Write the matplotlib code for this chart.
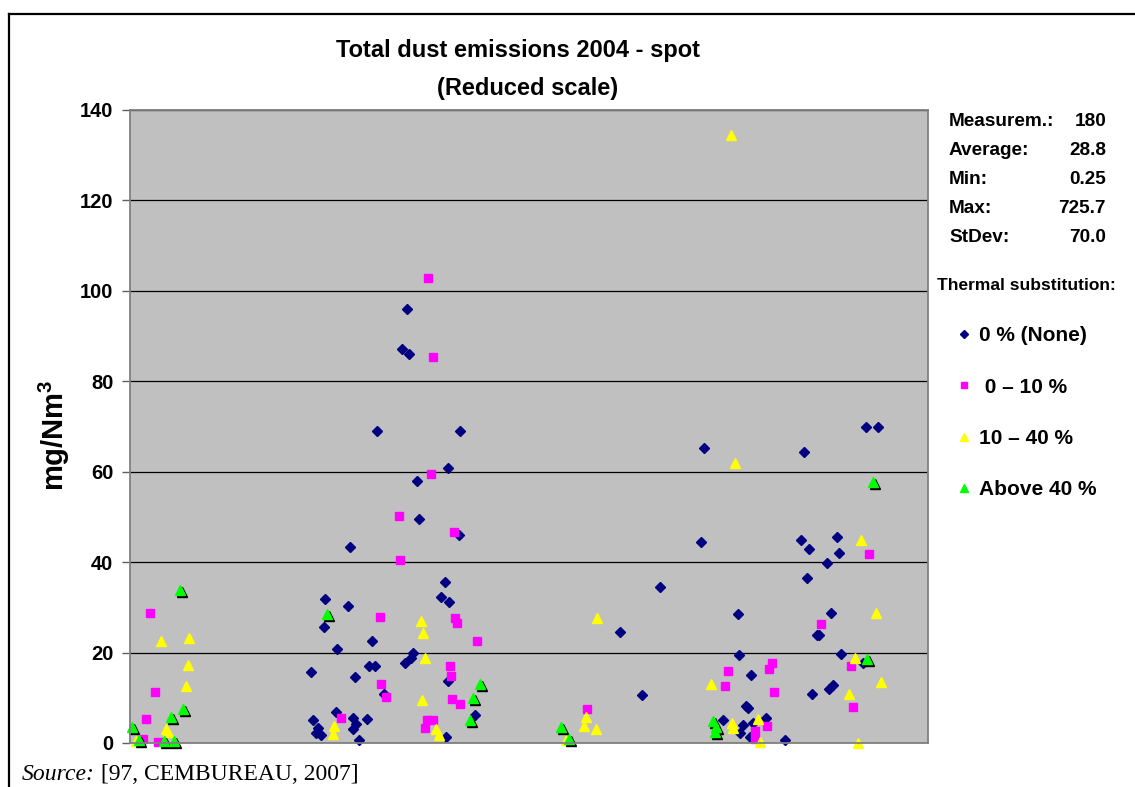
"""
plot.py
-------
Total dust emissions 2004 - spot measurements (reduced scale),
scatter by thermal substitution class.
"""

import matplotlib
matplotlib.use("Agg")
import matplotlib.pyplot as plt
from matplotlib.lines import Line2D
from matplotlib.transforms import offset_copy

plt.rcParams["font.family"] = ["Liberation Sans", "DejaVu Sans"]
plt.rcParams["mathtext.default"] = "regular"

W, H = 1135, 787

# --------------------------------------------------------------------------
# Data (x = position along the plant sequence, y = mg/Nm3)
# --------------------------------------------------------------------------

none_x = [195, 194, 207, 181, 183, 188, 186, 191, 206, 220, 218, 242, 239,
          245, 225, 254, 223, 226, 223, 237, 229, 247, 277, 272, 279, 287,
          289, 283, 281, 275, 311, 315, 319, 318, 330, 329, 318, 345, 316,
          490, 512, 530, 574, 571,
          608, 609, 621, 616, 618, 593, 636, 613, 610, 623, 620, 655,
          674, 671, 679, 707, 709, 697, 677, 701, 687, 689, 711, 733, 703,
          699, 682, 736, 748]
none_y = [31.9, 25.7, 20.8, 15.7, 5.1, 3.3, 2.2, 1.8, 6.9, 43.4, 30.3, 22.6,
          17.1, 17.1, 14.6, 10.9, 5.5, 4.2, 3.1, 5.3, 0.7, 69.1, 95.9, 87.1,
          86.0, 58.0, 49.6, 19.9, 18.8, 17.7, 32.3, 35.7, 31.2, 60.9, 68.9,
          46.1, 13.7, 6.2, 1.3,
          24.6, 10.6, 34.4, 65.3, 44.5,
          28.6, 19.5, 15.0, 8.2, 7.7, 5.0, 5.5, 4.0, 2.2, 4.4, 1.3, 0.6,
          64.3, 45.0, 42.8, 45.6, 42.1, 39.7, 36.6, 28.8, 23.9, 23.9, 19.7,
          17.7, 12.8, 12.0, 10.9, 69.8, 69.8]

low_x = [20, 25, 16, 13, 28, 211,
         298, 303, 301, 269, 324, 270, 250, 325, 327, 347, 320, 321, 251,
         256, 322, 330, 297, 303, 295,
         457, 598, 595, 642, 639, 644, 625, 637, 625, 691, 739, 721, 723]
low_y = [28.8, 11.3, 5.3, 0.9, 0.2, 5.6,
         102.8, 85.3, 59.4, 50.3, 46.7, 40.5, 27.9, 27.7, 26.6, 22.6, 17.1,
         14.8, 13.1, 10.2, 9.8, 8.6, 5.1, 5.1, 3.3,
         7.5, 16.0, 12.5, 17.7, 16.4, 11.3, 2.7, 3.8, 0.9, 26.4, 41.9, 17.1, 8.0]

mid_x = [31, 59, 58, 56, 36, 38, 6, 204, 203,
         291, 293, 295, 292, 306, 309,
         467, 456, 454, 466, 436,
         605, 601, 581, 602, 603, 628, 630,
         731, 746, 725, 751, 719, 728]
mid_y = [22.6, 23.3, 17.3, 12.6, 3.1, 2.4, 0.5, 3.8, 2.0,
         27.0, 24.4, 18.8, 9.5, 3.1, 1.8,
         27.7, 5.8, 3.8, 3.1, 0.6,
         62.0, 134.4, 13.0, 4.5, 3.3, 5.3, 0.2,
         45.0, 28.8, 18.8, 13.5, 10.9, 0.0]

high_x = [50, 53, 41, 2, 9, 34, 44, 197, 350, 343, 340, 431, 439,
          583, 586, 585, 743, 737]
high_y = [33.9, 7.5, 5.8, 3.5, 0.7, 0.4, 0.4, 28.6, 13.1, 10.0, 5.1, 3.5, 0.9,
          4.9, 3.5, 2.4, 57.8, 18.6]

labels = ["0 % (None)", " 0 – 10 %", "10 – 40 %", "Above 40 %"]

stat_names = ["Measurem.:", "Average:", "Min:", "Max:", "StDev:"]
stat_values = ["180", "28.8", "0.25", "725.7", "70.0"]

y_ticks = [0, 20, 40, 60, 80, 100, 120, 140]


def fx(px):
    return px / W


def fy(py):
    return 1 - py / H


fig = plt.figure(figsize=(W / 100, H / 100), dpi=100)
ax = fig.add_axes([fx(130), fy(743), fx(928 - 130), (743 - 110) / H])
ax.set_facecolor("#C0C0C0")

# plot area
ax.set_xlim(0, 798)
ax.set_ylim(0, 140)
ax.set_yticks(y_ticks)
ax.set_xticks([])
ax.yaxis.grid(True, color="black", linewidth=0.9)
ax.set_axisbelow(True)
for sp in ax.spines.values():
    sp.set_color("#808080")
    sp.set_linewidth(1.3)
ax.tick_params(axis="y", direction="out", length=6, width=1, color="#606060",
               pad=6, labelsize=14.5)
for lbl in ax.get_yticklabels():
    lbl.set_fontweight("bold")

ax.set_ylabel("mg/Nm$^3$", fontsize=21, fontweight="bold")
# label anchor sits on its right-hand (descender) side
ax.yaxis.set_label_coords((72 - 130) / 798, (743 - 435) / (743 - 110),
                          transform=ax.transAxes)

common = dict(linestyle="none", clip_on=False)
ax.plot(none_x, none_y, marker="D", color="#000080", markersize=5.4,
        label=labels[0], **common)
ax.plot(low_x, low_y, marker="s", color="#FF00FF", markersize=6,
        label=labels[1], **common)
ax.plot(mid_x, mid_y, marker="^", color="#FFFF00", markersize=7,
        label=labels[2], **common)
# green triangles carry a black drop shadow
shadow = offset_copy(ax.transData, fig=fig, x=2, y=-2, units="dots")
ax.plot(high_x, high_y, marker="^", color="black", markersize=7,
        transform=shadow, **common)
ax.plot(high_x, high_y, marker="^", color="#00FF00", markersize=7,
        label=labels[3], **common)

leg = ax.legend(loc="upper left", bbox_to_anchor=(fx(945), fy(316)),
                bbox_transform=fig.transFigure, frameon=False,
                prop={"weight": "bold", "size": 15}, markerscale=0.75,
                labelspacing=1.55, handlelength=0.8, handletextpad=0.35,
                borderpad=0)

# titles
fig.text(fx(518), fy(50), "Total dust emissions 2004 - spot", ha="center",
         va="center", fontsize=17, fontweight="bold")
fig.text(fx(528), fy(88), "(Reduced scale)", ha="center", va="center",
         fontsize=17, fontweight="bold")

# summary statistics
for i, (name, val) in enumerate(zip(stat_names, stat_values)):
    y = fy(122 + i * 28.8)
    fig.text(fx(949), y, name, ha="left", va="center", fontsize=13.7,
             fontweight="bold")
    fig.text(fx(1106), y, val, ha="right", va="center", fontsize=13.7,
             fontweight="bold")
fig.text(fx(937), fy(286), "Thermal substitution:", ha="left", va="center",
         fontsize=12.5, fontweight="bold")

# outer frame (only left and top edges fall inside the page crop)
fig.add_artist(Line2D([fx(9), fx(9)], [0, fy(14)], color="black", lw=1.6))
fig.add_artist(Line2D([fx(9), 1], [fy(14), fy(14)], color="black", lw=1.6))

# source line
src = fig.text(fx(22), fy(774), "Source:", ha="left", va="center",
               fontsize=17, style="italic", family="Liberation Serif")
ax.annotate(" [97, CEMBUREAU, 2007]", xy=(1, 0), xycoords=src, ha="left",
            va="bottom", fontsize=17, family="Liberation Serif",
            annotation_clip=False)

fig.savefig("out.png", dpi=100)
